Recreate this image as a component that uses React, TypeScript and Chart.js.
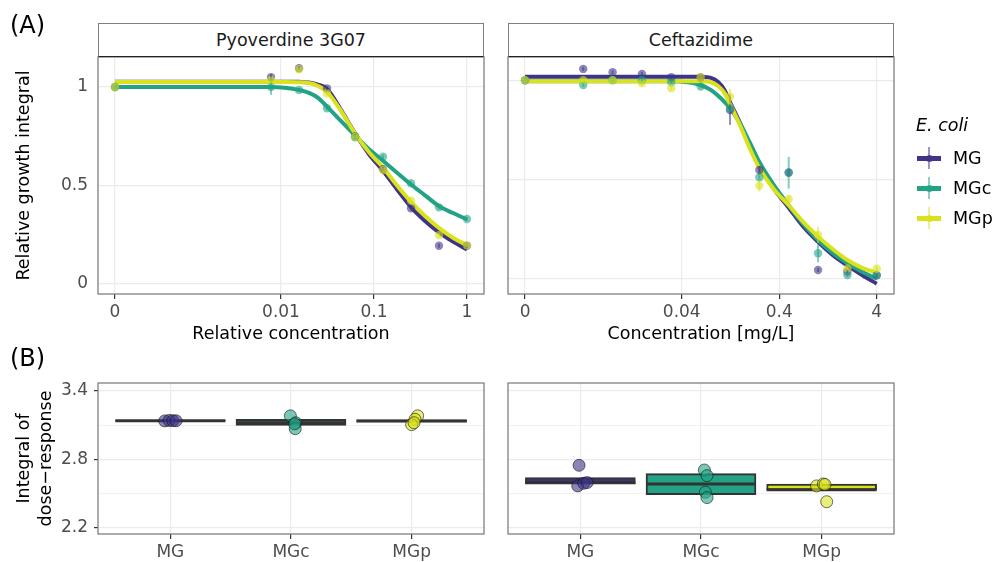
import React, { useEffect, useRef } from "react";
import { Chart, registerables } from "chart.js";
Chart.register(...registerables);

const FONT = "'DejaVu Sans', Verdana, sans-serif";
const STRAINS = ["MG", "MGc", "MGp"];
const STRAIN_COLORS = ["#3e3488", "#22a386", "#d9e21c"];

// ---------- Panel A, left: Pyoverdine 3G07 (relative concentration) ----------
const pyoConc = [0, 0.0078125, 0.015625, 0.03125, 0.0625, 0.125, 0.25, 0.5, 1];
const pyoMG = [1.0, 1.05, 1.095, 0.993, 0.75, 0.582, 0.384, 0.194, 0.194];
const pyoMGc = [1.0, 1.0, 0.985, 0.892, 0.745, 0.646, 0.511, 0.389, 0.33];
const pyoMGp = [1.0, 1.035, 1.09, 0.968, 0.748, 0.578, 0.423, 0.247, 0.196];
const pyoErrMG = [0, 0.015, 0.01, 0.01, 0.01, 0.01, 0.01, 0.01, 0.01];
const pyoErrMGc = [0, 0.04, 0.01, 0.01, 0.01, 0.01, 0.01, 0.01, 0.01];
const pyoErrMGp = [0, 0.015, 0.01, 0.01, 0.01, 0.01, 0.01, 0.01, 0.01];

const pyoFitConc = [0, 0.0078, 0.011, 0.0156, 0.02, 0.025, 0.03125, 0.044, 0.0625, 0.088, 0.125, 0.177, 0.25, 0.354, 0.5, 0.707, 1];
const pyoFitMG = [1.027, 1.027, 1.027, 1.026, 1.023, 1.012, 0.99, 0.885, 0.765, 0.66, 0.575, 0.48, 0.39, 0.32, 0.262, 0.215, 0.175];
const pyoFitMGc = [1.0, 1.0, 0.996, 0.985, 0.97, 0.945, 0.9, 0.828, 0.755, 0.685, 0.625, 0.565, 0.505, 0.45, 0.395, 0.36, 0.328];
const pyoFitMGp = [1.025, 1.025, 1.025, 1.024, 1.02, 1.005, 0.975, 0.88, 0.765, 0.67, 0.592, 0.5, 0.417, 0.345, 0.285, 0.235, 0.197];

// ---------- Panel A, right: Ceftazidime (mg/L) ----------
const cefConc = [0, 0.00390625, 0.0078125, 0.015625, 0.03125, 0.0625, 0.125, 0.25, 0.5, 1, 2, 4];
const cefMG = [1.0, 1.057, 1.04, 1.032, 1.015, 1.015, 0.85, 0.548, 0.535, 0.044, 0.036, 0.017];
const cefMGc = [1.0, 0.976, 1.0, 1.0, 0.99, 0.968, 0.859, 0.511, 0.534, 0.128, 0.019, 0.017];
const cefMGp = [1.0, 1.0, 1.0, 0.985, 0.96, 1.015, 0.917, 0.469, 0.402, 0.22, 0.052, 0.05];
const cefErrMG = [0, 0.01, 0.01, 0.01, 0.01, 0.01, 0.075, 0.02, 0.02, 0.01, 0.01, 0.01];
const cefErrMGc = [0, 0.01, 0.01, 0.01, 0.01, 0.01, 0.02, 0.02, 0.08, 0.045, 0.01, 0.01];
const cefErrMGp = [0, 0.01, 0.01, 0.01, 0.01, 0.01, 0.04, 0.03, 0.02, 0.04, 0.01, 0.01];

const cefFitConc = [0, 0.0039, 0.0078, 0.0156, 0.03125, 0.045, 0.0625, 0.08, 0.095, 0.11, 0.125, 0.16, 0.2, 0.25, 0.354, 0.5, 0.707, 1, 1.41, 2, 2.83, 4];
const cefFitMG = [1.018, 1.018, 1.018, 1.018, 1.018, 1.018, 1.017, 1.012, 0.99, 0.95, 0.89, 0.78, 0.67, 0.572, 0.452, 0.358, 0.262, 0.186, 0.12, 0.067, 0.018, -0.025];
const cefFitMGc = [0.995, 0.995, 0.995, 0.995, 0.995, 0.99, 0.976, 0.95, 0.92, 0.89, 0.86, 0.778, 0.685, 0.588, 0.47, 0.37, 0.275, 0.195, 0.13, 0.078, 0.035, 0.0];
const cefFitMGp = [0.995, 0.995, 0.995, 0.995, 0.995, 0.995, 0.995, 0.99, 0.97, 0.935, 0.88, 0.768, 0.655, 0.558, 0.45, 0.37, 0.285, 0.212, 0.15, 0.094, 0.055, 0.03];

// ---------- Panel B: integral of dose-response ----------
const groupPos = [1, 2, 3];
const groupLabels = ["MG", "MGc", "MGp"];
const pyoBoxLow = [3.136, 3.097, 3.127];
const pyoBoxMed = [3.138, 3.12, 3.135];
const pyoBoxHigh = [3.14, 3.15, 3.145];
const pyoPts = [
  [3.136, 3.14, 3.138, 3.137],
  [3.18, 3.12, 3.068, 3.11],
  [3.18, 3.15, 3.103, 3.12],
];
const pyoJitter = [
  [-0.047, -0.01, 0.02, 0.047],
  [-0.005, 0.04, 0.035, 0.03],
  [0.05, 0.028, 0.0, 0.02],
];
const cefBoxLow = [2.583, 2.492, 2.53];
const cefBoxMed = [2.597, 2.585, 2.535];
const cefBoxHigh = [2.64, 2.675, 2.585];
const cefPts = [
  [2.748, 2.568, 2.591, 2.597],
  [2.707, 2.658, 2.513, 2.466],
  [2.568, 2.585, 2.58, 2.43],
];
const cefJitter = [
  [-0.011, -0.022, 0.028, 0.056],
  [0.028, 0.05, 0.036, 0.05],
  [-0.042, 0.014, 0.028, 0.042],
];

const bTicks = [2.2, 2.5, 2.8, 3.1, 3.4];
const bTickLabels = ["2.2", "", "2.8", "", "3.4"];

// ---------- helpers ----------
const hexA = (hex: string, a: number) => {
  const n = parseInt(hex.slice(1), 16);
  return `rgba(${(n >> 16) & 255},${(n >> 8) & 255},${n & 255},${a})`;
};

const panelBorder = {
  id: "panelBorder",
  afterDraw(chart: any) {
    const { left, top, right, bottom } = chart.chartArea;
    const ctx = chart.ctx;
    ctx.save();
    ctx.strokeStyle = "#808080";
    ctx.lineWidth = 1.3;
    ctx.strokeRect(left, top, right - left, bottom - top);
    ctx.restore();
  },
};

const errorBars = {
  id: "errorBars",
  afterDatasetsDraw(chart: any) {
    const ctx = chart.ctx;
    const ys = chart.scales.y;
    chart.data.datasets.forEach((ds: any, di: number) => {
      if (!ds.errors) return;
      const meta = chart.getDatasetMeta(di);
      ctx.save();
      ctx.strokeStyle = ds.errorColor;
      ctx.lineWidth = 2;
      meta.data.forEach((pt: any, i: number) => {
        const e = ds.errors[i];
        if (!e) return;
        const v = ds.data[i].y;
        ctx.beginPath();
        ctx.moveTo(pt.x, ys.getPixelForValue(v - e));
        ctx.lineTo(pt.x, ys.getPixelForValue(v + e));
        ctx.stroke();
      });
      ctx.restore();
    });
  },
};

const tickFont = { family: FONT, size: 17 };
const titleFont = { family: FONT, size: 17.5 };

function buildTop(p: any) {
  const pos = (c: number) => (c === 0 ? p.zero : Math.log10(c));
  const datasets: any[] = [];
  STRAINS.forEach((s, k) => {
    datasets.push({
      type: "line",
      label: s + " fit",
      data: p.fitConc.map((c: number, i: number) => ({ x: pos(c), y: p.fits[k][i] })),
      borderColor: STRAIN_COLORS[k],
      borderWidth: 4,
      pointRadius: 0,
      cubicInterpolationMode: "monotone",
      fill: false,
      order: 6 - k,
    });
  });
  STRAINS.forEach((s, k) => {
    datasets.push({
      type: "scatter",
      label: s,
      data: p.conc.map((c: number, i: number) => ({ x: pos(c), y: p.series[k][i] })),
      backgroundColor: hexA(STRAIN_COLORS[k], 0.6),
      borderWidth: 0,
      pointRadius: 4.2,
      errors: p.errs[k],
      errorColor: hexA(STRAIN_COLORS[k], 0.55),
      order: 3 - k,
    });
  });
  return {
    type: "scatter",
    data: { datasets },
    options: {
      animation: false,
      responsive: false,
      events: [],
      layout: { autoPadding: false, padding: { top: p.padTop, right: p.padRight, left: 0, bottom: 0 } },
      plugins: { legend: { display: false }, tooltip: { enabled: false } },
      scales: {
        x: {
          type: "linear",
          min: p.xmin,
          max: p.xmax,
          afterBuildTicks: (s: any) => {
            s.ticks = p.xTicks.map((v: number) => ({ value: v }));
          },
          afterFit: (s: any) => {
            s.height = p.xHeight;
          },
          ticks: {
            autoSkip: false,
            maxRotation: 0,
            padding: 3,
            color: "#4d4d4d",
            font: tickFont,
            callback: (_v: any, i: number) => p.xLabels[i],
          },
          grid: { color: "#ebebeb", lineWidth: 1.2, tickColor: "#333", tickLength: 5, tickWidth: 1.2 },
          border: { display: false },
          title: { display: true, text: p.xTitle, color: "#000", font: titleFont, padding: { top: 0, bottom: 5.5 } },
        },
        y: {
          type: "linear",
          min: p.ymin,
          max: p.ymax,
          afterBuildTicks: (s: any) => {
            s.ticks = p.yTicks.map((v: number) => ({ value: v }));
          },
          afterFit: (s: any) => {
            s.width = p.yWidth;
          },
          ticks: {
            display: !!p.yLabels,
            padding: 10,
            color: "#4d4d4d",
            font: tickFont,
            callback: (_v: any, i: number) => (p.yLabels ? p.yLabels[i] : ""),
          },
          grid: { color: "#ebebeb", lineWidth: 1.2, drawTicks: false },
          border: { display: false },
          title: {
            display: !!p.yTitle,
            text: p.yTitle || "",
            color: "#000",
            font: titleFont,
            padding: { top: 13.5, bottom: 0 },
          },
        },
      },
    },
    plugins: [panelBorder, errorBars],
  };
}

function buildBottom(p: any) {
  const datasets: any[] = [];
  STRAINS.forEach((s, k) => {
    datasets.push({
      type: "scatter",
      label: s,
      data: p.pts[k].map((v: number, i: number) => ({ x: groupPos[k] + p.jitter[k][i], y: v })),
      backgroundColor: hexA(STRAIN_COLORS[k], 0.6),
      borderColor: "rgba(20,20,20,0.6)",
      borderWidth: 1,
      pointRadius: 6,
      order: 1,
    });
  });
  datasets.push({
    type: "scatter",
    label: "median",
    data: groupPos.map((x, i) => ({ x, y: p.med[i] })),
    pointStyle: "line",
    pointRadius: 55,
    borderColor: "#333333",
    borderWidth: 3,
    clip: false,
    order: 2,
  });
  datasets.push({
    type: "bar",
    label: "box",
    data: groupPos.map((x, i) => ({ x, y: [p.low[i], p.high[i]] })),
    backgroundColor: STRAIN_COLORS,
    borderColor: "#333333",
    borderWidth: 2,
    borderSkipped: false,
    barThickness: 110,
    order: 3,
  });
  const showY = !!p.yTitle;
  return {
    type: "scatter",
    data: { datasets },
    options: {
      animation: false,
      responsive: false,
      events: [],
      layout: { autoPadding: false, padding: { top: p.padTop, right: p.padRight, left: 0, bottom: 0 } },
      plugins: { legend: { display: false }, tooltip: { enabled: false } },
      scales: {
        x: {
          type: "linear",
          offset: false,
          min: 0.4,
          max: 3.6,
          afterBuildTicks: (s: any) => {
            s.ticks = groupPos.map((v) => ({ value: v }));
          },
          afterFit: (s: any) => {
            s.height = p.xHeight;
          },
          ticks: {
            autoSkip: false,
            maxRotation: 0,
            padding: 3,
            color: "#4d4d4d",
            font: tickFont,
            callback: (_v: any, i: number) => groupLabels[i],
          },
          grid: { offset: false, color: "#ebebeb", lineWidth: 1.2, tickColor: "#333", tickLength: 5, tickWidth: 1.2 },
          border: { display: false },
        },
        y: {
          type: "linear",
          beginAtZero: false,
          min: 2.148,
          max: 3.467,
          afterBuildTicks: (s: any) => {
            s.ticks = bTicks.map((v) => ({ value: v }));
          },
          afterFit: (s: any) => {
            s.width = p.yWidth;
          },
          ticks: {
            display: showY,
            padding: 6,
            color: "#4d4d4d",
            font: tickFont,
            callback: (_v: any, i: number) => bTickLabels[i],
          },
          grid: {
            color: "#ebebeb",
            drawTicks: showY,
            lineWidth: (c: any) => (c.tick && bTickLabels[c.index] === "" ? 0.7 : 1.2),
            tickColor: (c: any) => (c.tick && bTickLabels[c.index] === "" ? "rgba(0,0,0,0)" : "#333"),
            tickLength: 4,
            tickWidth: 1.2,
          },
          border: { display: false },
          title: {
            display: showY,
            text: p.yTitle || "",
            color: "#000",
            font: { family: FONT, size: 17.5, lineHeight: 1.25 },
            padding: { top: 13.5, bottom: 0 },
          },
        },
      },
    },
    plugins: [panelBorder],
  };
}

function ChartBox({ left, top, width, height, config }: any) {
  const ref = useRef<HTMLCanvasElement | null>(null);
  useEffect(() => {
    if (!ref.current) return;
    const chart = new Chart(ref.current, config);
    return () => chart.destroy();
  }, []);
  return (
    <canvas
      ref={ref}
      width={width}
      height={height}
      style={{ position: "absolute", left, top, width, height }}
    />
  );
}

const txt = (extra: any) => ({
  position: "absolute" as const,
  fontFamily: FONT,
  whiteSpace: "nowrap" as const,
  zIndex: 5,
  ...extra,
});

export default function App() {
  const topLeft = buildTop({
    conc: pyoConc,
    series: [pyoMG, pyoMGc, pyoMGp],
    errs: [pyoErrMG, pyoErrMGc, pyoErrMGp],
    fitConc: pyoFitConc,
    fits: [pyoFitMG, pyoFitMGc, pyoFitMGp],
    zero: -3.785,
    xmin: -3.968,
    xmax: 0.183,
    xTicks: [-3.785, -2, -1, 0],
    xLabels: ["0", "0.01", "0.1", "1"],
    ymin: -0.0508,
    ymax: 1.152,
    yTicks: [0, 0.5, 1],
    yLabels: ["0", "0.5", "1"],
    yWidth: 98,
    padTop: 57,
    padRight: 6,
    xHeight: 56,
    xTitle: "Relative concentration",
    yTitle: "Relative growth integral",
  });
  const topRight = buildTop({
    conc: cefConc,
    series: [cefMG, cefMGc, cefMGp],
    errs: [cefErrMG, cefErrMGc, cefErrMGp],
    fitConc: cefFitConc,
    fits: [cefFitMG, cefFitMGc, cefFitMGp],
    zero: -3.005,
    xmin: -3.18,
    xmax: 0.779,
    xTicks: [-3.005, Math.log10(0.04), Math.log10(0.4), Math.log10(4)],
    xLabels: ["0", "0.04", "0.4", "4"],
    ymin: -0.077,
    ymax: 1.117,
    yTicks: [0, 0.5, 1],
    yLabels: null,
    yWidth: 18,
    padTop: 57,
    padRight: 101,
    xHeight: 56,
    xTitle: "Concentration [mg/L]",
    yTitle: null,
  });
  const botLeft = buildBottom({
    pts: pyoPts,
    jitter: pyoJitter,
    low: pyoBoxLow,
    med: pyoBoxMed,
    high: pyoBoxHigh,
    yWidth: 98,
    padTop: 43,
    padRight: 6,
    xHeight: 28,
    yTitle: ["Integral of", "dose\u2212response"],
  });
  const botRight = buildBottom({
    pts: cefPts,
    jitter: cefJitter,
    low: cefBoxLow,
    med: cefBoxMed,
    high: cefBoxHigh,
    yWidth: 18,
    padTop: 43,
    padRight: 101,
    xHeight: 28,
    yTitle: null,
  });

  const strip = (left: number, width: number, label: string) => (
    <div
      style={txt({
        left,
        top: 23,
        width,
        height: 34,
        boxSizing: "border-box",
        border: "1.3px solid #808080",
        borderBottom: "1.6px solid #222",
        background: "#fff",
        fontSize: 17.5,
        lineHeight: "32px",
        textAlign: "center",
        color: "#1a1a1a",
      })}
    >
      {label}
    </div>
  );

  const legendRows = [158, 188, 218];

  return (
    <div style={{ position: "absolute", left: 0, top: 0, width: 995, height: 562, background: "#fff", overflow: "hidden" }}>
      <ChartBox left={0} top={0} width={490} height={350} config={topLeft} />
      <ChartBox left={490} top={0} width={505} height={350} config={topRight} />
      <ChartBox left={0} top={340} width={490} height={222} config={botLeft} />
      <ChartBox left={490} top={340} width={505} height={222} config={botRight} />
      {strip(98, 386, "Pyoverdine 3G07")}
      {strip(508, 386, "Ceftazidime")}
      <div style={txt({ left: 10, top: 10, fontSize: 24, lineHeight: "30px", color: "#000" })}>(A)</div>
      <div style={txt({ left: 10, top: 343, fontSize: 24, lineHeight: "30px", color: "#000" })}>(B)</div>
      <div style={txt({ left: 916, top: 114, fontSize: 17.5, lineHeight: "22px", fontStyle: "italic", color: "#000" })}>E. coli</div>
      {STRAINS.map((s, k) => (
        <React.Fragment key={s}>
          <div style={txt({ left: 917, top: legendRows[k] - 2.5, width: 24, height: 5, background: STRAIN_COLORS[k] })} />
          <div style={txt({ left: 928, top: legendRows[k] - 11, width: 2, height: 22, background: hexA(STRAIN_COLORS[k], 0.5) })} />
          <div
            style={txt({
              left: 925.5,
              top: legendRows[k] - 3.5,
              width: 7,
              height: 7,
              borderRadius: "50%",
              background: hexA(STRAIN_COLORS[k], 0.8),
            })}
          />
          <div style={txt({ left: 953, top: legendRows[k] - 11, fontSize: 17.5, lineHeight: "22px", color: "#000" })}>{s}</div>
        </React.Fragment>
      ))}
    </div>
  );
}
